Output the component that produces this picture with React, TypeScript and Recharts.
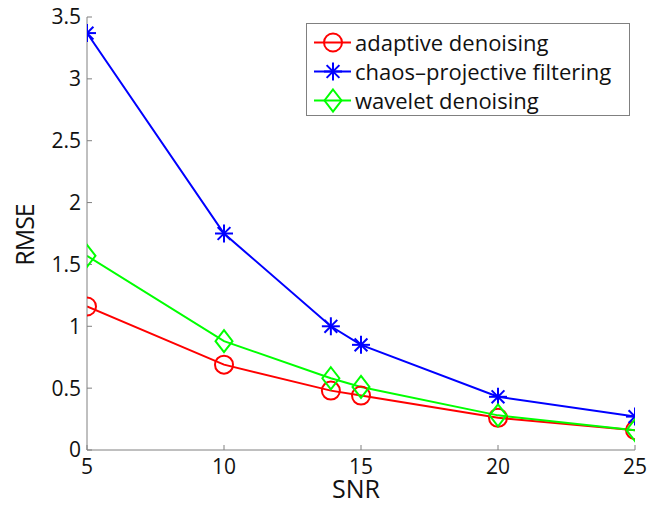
import { LineChart, Line, XAxis, YAxis, Legend } from 'recharts'

// SNR levels tested and RMSE of each denoising method
const snr = [5, 10, 13.9, 15, 20, 25]
const adaptive = [1.16, 0.69, 0.48, 0.44, 0.26, 0.16]
const chaos = [3.37, 1.75, 1.0, 0.85, 0.43, 0.27]
const wavelet = [1.57, 0.88, 0.58, 0.51, 0.28, 0.16]

const xTicks = [5, 10, 15, 20, 25]
const yTicks = [0, 0.5, 1, 1.5, 2, 2.5, 3, 3.5]

const data = snr.map((s, i) => ({
  snr: s,
  adaptive: adaptive[i],
  chaos: chaos[i],
  wavelet: wavelet[i],
}))

const RED = '#ff0000'
const BLUE = '#0000ff'
const GREEN = '#00ff00'
const AXIS = '#808080'
const FONT = '"Open Sans", sans-serif'

type MarkerProps = { cx?: number; cy?: number; color: string }

const CircleMark = ({ cx = 0, cy = 0, color }: MarkerProps) => (
  <circle cx={cx} cy={cy} r={9} fill="none" stroke={color} strokeWidth={2} />
)

const StarMark = ({ cx = 0, cy = 0, color }: MarkerProps) => {
  const r = 9
  const d = 6.4
  return (
    <g stroke={color} strokeWidth={2}>
      <line x1={cx - r} y1={cy} x2={cx + r} y2={cy} />
      <line x1={cx} y1={cy - r} x2={cx} y2={cy + r} />
      <line x1={cx - d} y1={cy - d} x2={cx + d} y2={cy + d} />
      <line x1={cx - d} y1={cy + d} x2={cx + d} y2={cy - d} />
    </g>
  )
}

const DiamondMark = ({ cx = 0, cy = 0, color }: MarkerProps) => (
  <path
    d={`M${cx},${cy - 11} L${cx + 8.5},${cy} L${cx},${cy + 11} L${cx - 8.5},${cy} Z`}
    fill="none"
    stroke={color}
    strokeWidth={2}
  />
)

const series = [
  { key: 'adaptive', name: 'adaptive denoising', color: RED, Mark: CircleMark },
  { key: 'chaos', name: 'chaos\u2013projective filtering', color: BLUE, Mark: StarMark },
  { key: 'wavelet', name: 'wavelet denoising', color: GREEN, Mark: DiamondMark },
]

const LegendBox = () => (
  <div
    style={{
      width: 322,
      height: 87,
      border: `1px solid ${AXIS}`,
      background: '#fff',
      fontFamily: FONT,
      fontSize: 22,
      color: '#111',
      paddingTop: 4,
      boxSizing: 'content-box',
    }}
  >
    {series.map(({ key, name, color, Mark }) => (
      <div key={key} style={{ display: 'flex', alignItems: 'center', height: 29 }}>
        <svg width={48} height={29} style={{ flexShrink: 0 }}>
          <line x1={7} y1={14.5} x2={44} y2={14.5} stroke={color} strokeWidth={2} />
          <Mark cx={26} cy={14.5} color={color} />
        </svg>
        <span style={{ whiteSpace: 'nowrap', lineHeight: '29px' }}>{name}</span>
      </div>
    ))}
  </div>
)

const tickStyle = { fill: '#111', fontSize: 21, fontFamily: FONT }
const emptyTick = () => <g />

export default function App() {
  return (
    <div style={{ position: 'absolute', left: 0, top: 0, background: '#fff' }}>
      <LineChart
        width={655}
        height={505}
        data={data}
        margin={{ top: 17, right: 20, bottom: 0, left: 0 }}
      >
        <XAxis
          dataKey="snr"
          type="number"
          domain={[5, 25]}
          ticks={xTicks}
          height={55}
          tickSize={-5}
          tickMargin={14}
          stroke={AXIS}
          tick={tickStyle}
          allowDataOverflow
          label={{
            content: () => (
              <text x={356} y={498} textAnchor="middle" fill="#111" fontSize={25} fontFamily={FONT}>
                SNR
              </text>
            ),
          }}
        />
        <XAxis
          xAxisId="top"
          orientation="top"
          type="number"
          domain={[5, 25]}
          ticks={xTicks}
          height={0}
          tickSize={-5}
          stroke={AXIS}
          tick={emptyTick}
        />
        <YAxis
          type="number"
          domain={[0, 3.5]}
          ticks={yTicks}
          width={87}
          tickSize={-5}
          tickMargin={11}
          stroke={AXIS}
          tick={tickStyle}
          label={{
            content: () => (
              <text
                x={24}
                y={235}
                transform="rotate(-90, 24, 235)"
                textAnchor="middle"
                dominantBaseline="central"
                fill="#111"
                fontSize={25}
                fontFamily={FONT}
                letterSpacing={-1}
              >
                RMSE
              </text>
            ),
          }}
        />
        <YAxis
          yAxisId="right"
          orientation="right"
          type="number"
          domain={[0, 3.5]}
          ticks={yTicks}
          width={0}
          tickSize={-5}
          stroke={AXIS}
          tick={emptyTick}
        />
        <Legend
          layout="horizontal"
          verticalAlign="middle"
          align="center"
          wrapperStyle={{ position: 'absolute', left: 306, top: 23, width: 324, height: 93 }}
          content={() => <LegendBox />}
        />
        {series.map(({ key, color, Mark }) => (
          <Line
            key={key}
            dataKey={key}
            name={key}
            stroke={color}
            strokeWidth={2}
            isAnimationActive={false}
            dot={(p: any) => <Mark key={`${key}-${p.index}`} cx={p.cx} cy={p.cy} color={color} />}
            activeDot={false}
          />
        ))}
      </LineChart>
    </div>
  )
}
